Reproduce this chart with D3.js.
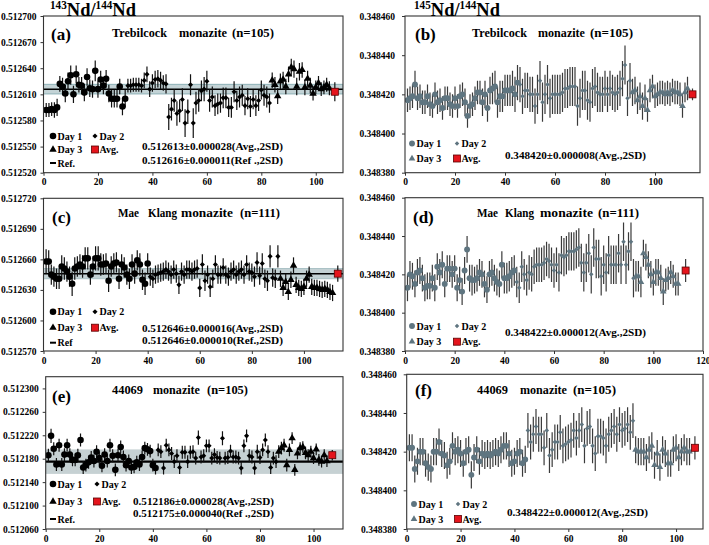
<!DOCTYPE html>
<html><head><meta charset="utf-8">
<script src="https://cdn.jsdelivr.net/npm/d3@7"></script>
<style>
body{margin:0;background:#fff}
text{font-family:"Liberation Serif","Times New Roman",serif;font-weight:bold;fill:#000}
</style></head>
<body><svg id="c" width="709" height="545"></svg>
<script>
// Values are stored in units of 1e-6 above the base ratio.
const BASE143 = 0.512, BASE145 = 0.348;

// (a) Trebilcock 143Nd/144Nd
const a_day1 = [592,592,593,592,595,622,619,611,625,632,610,633,621,620,612,630,617,616,637,616,627,620,628,611,605,605,605,619,596,605];
const a_day2 = [620,620,621,621,621,620,626,633,616,623,627,628,626,623,622,584,593,603,588,591,604,577,590,621,577,600,603,614,616,625,603,607,597,599,600,606,606,595,595,613,603,607,609,597,605,596,604,597,603,615,609,607,600];
const a_day3 = [626,621,608,625,627,619,633,641,639,619,636,638,618,628,620,611,618,623,616,618,621,617];
const a_err = [8,8,8,9,10,9,10,10,10,11,10,10,9,10,10,10,10,10,12,10,10,10,10,10,10,10,10,9,10,10,
  8,8,8,8,8,8,9,9,9,10,10,10,10,9,11,15,13,13,14,13,13,16,14,12,17,13,13,12,14,12,13,12,12,12,11,12,12,11,12,12,11,12,12,11,12,12,11,12,12,11,12,12,11,
  9,9,9,9,9,9,9,10,10,10,10,9,9,9,9,8,8,8,8,8,8,8];
const a_avg = 613, a_avgErr = 11, a_ref = 616, a_refSD = 5.5;

// (b) Trebilcock 145Nd/144Nd
const b_day1 = [417,418,419,425,418,419,416,416,419,415,414,420,416,417,413,418,418,415,414,418,414,419,420,416,409,414,415,418,421,421,416,420,413,422,423,424,416,419,419,422,422,422,423,420,426];
const b_day2 = [425,419,422,422,420,420,414,420,427,416,420,425,418,420,420,420,420,421,423,423,424,424,424,414,418,422,422,417,416,423,424,421,420,420,423,420,423,421,420,421,423,428,435,418,427];
const b_day3 = [421,422,417,419,414,418,412,422,424,419,420,421,421,420,421,420,422,421,421,420,414,421,423];
const b_err = [6,6,6,7,6,6,6,6,6,6,6,6,6,6,6,6,6,6,6,6,6,6,6,7,6,6,6,6,6,6,
  7,7,7,7,8,8,8,8,8,8,8,8,9,9,9,9,9,9,9,9,9,9,10,10,10,10,10,10,10,10,
  10,10,10,10,10,10,10,10,10,10,10,10,10,10,10,10,10,9,9,9,9,9,9,9,9,9,9,10,9,9,
  7,7,7,7,7,7,6,6,6,6,6,6,6,6,6,6,6,6,6,6,6,5,6];
const b_avg = 420, b_avgErr = 3;

// (c) Mae Klang 143Nd/144Nd
const c_day1 = [658,658,645,643,641,641,653,651,648,643,636,651,653,655,653,661,661,645,653,661,661,655,655,656,639,653,656,657,641,655,652,645,641,655,646,659,655,640,636,656];
const c_day2 = [643,641,645,646,647,648,650,648,645,650,646,635,648,645,650,650,648,650,651,632,655,639,645,633,641,655,645,645,652,645,643,648,650,645,648,650,645,655,648,647,643,657,644,656,641,639,663,642,641,663];
const c_day3 = [641,632,638,628,640,654,635,632,631,633,641,645,633,632,632,631,630,631,630,628,627];
const c_err = [12,11,10,10,10,10,11,11,10,10,12,11,10,10,11,11,11,10,10,12,12,11,10,10,11,10,10,10,10,10,10,10,10,10,10,10,11,10,11,10,
  9,9,9,9,9,9,9,9,9,9,9,9,9,9,9,9,9,9,9,9,10,10,9,10,9,9,9,9,9,9,9,9,9,9,9,9,9,9,9,9,10,10,9,10,9,10,11,9,9,11,
  8,8,8,8,8,8,8,8,8,8,8,8,8,8,8,8,8,8,8,8,8];
const c_avg = 646, c_avgErr = 8, c_ref = 646, c_refSD = 5;

// (d) Mae Klang 145Nd/144Nd
const d_day1 = [413,420,419,415,421,422,418,413,414,414,418,413,424,421,425,415,423,423,420,423,413,417,411,422,433,418,417,417,418,421,420,415,412,420,421,418,416,415,425,418,418,419,421,422];
const d_day2 = [416,413,424,420,417,421,420,424,425,425,425,426,428,427,425,422,425,421,430,429,430,432,432,432,433,434,426,421,426,431,420,434,428,428,419,425,421,430,425,425,425,431,425,437,425,432,437,418];
const d_day3 = [419,419,416,431,429,425,420,416,421,421,418,411,417,418,421,419,415,415];
const d_err = [7,7,7,7,7,7,7,7,7,7,7,7,7,7,7,7,7,7,7,7,7,7,7,7,7,7,8,7,7,7,7,7,7,7,7,7,7,7,7,8,8,8,8,8,
  8,8,8,8,8,9,9,9,9,9,9,9,9,9,9,9,9,10,10,10,10,10,10,10,10,10,10,10,10,10,10,10,10,10,10,10,10,10,10,10,10,10,10,10,10,10,10,10,
  8,8,8,7,7,7,7,7,7,7,7,7,6,6,6,6,6,6];
const d_avg = 422, d_avgErr = 6;

// (e) 44069 143Nd/144Nd
const e_day1 = [186,219,197,170,203,170,187,203,187,178,178,186,212,165,169,174,182,176,192,181,168,187,176,203,185,161,186,200,183,169,176,165,166,174,170,183,198,196,193,169,164];
const e_day2 = [195,192,164,203,195,189,175,185,165,191,191,175,191,192,181,216,183,185,202,202,181,187,182,181,215,181,182,193,183,183,181,164,202,219,185,183,164,192,182,195,212,192,165,181,175];
const e_day3 = [192,198,203,169,195,215,161,189,198,200,190,186,192,181,196,178,175,186,176];
const e_err = [11,12,11,11,11,11,11,11,11,11,11,11,11,11,11,11,11,11,11,11,11,11,11,11,11,11,11,11,11,11,11,11,11,11,11,11,11,11,11,11,11,
  11,11,11,11,11,11,11,11,11,11,11,11,11,11,11,12,11,11,11,11,11,11,11,11,12,11,11,11,11,11,11,11,11,11,11,11,11,12,11,11,11,11,11,11,11,11,11,11,11,11,
  10,10,10,10,10,11,10,10,10,10,10,10,10,10,10,10,10,10,10];
const e_avg = 186, e_avgErr = 9, e_ref = 175, e_refSD = 20;

// (f) 44069 145Nd/144Nd
const f_day1 = [422,422,411,415,420,420,414,412,411,420,420,425,419,418,413,415,423,420,421,419,414,420,421,408,417,421,415,419,418,419,418,419,420,419,421,423,423,419,414,415,419,420,414,416];
const f_day2 = [431,425,429,433,429,429,422,431,418,421,425,425,430,423,424,425,426,431,427,431,434,423,432,433,423,419,428,428,427,423,429,431,433,429,434,431,432,434,430,436];
const f_day3 = [421,420,420,420,417,421,423,413,419,412,421,419,414,414,421,422,417,420,422,420,420];
const f_err = [7,7,7,7,7,7,7,7,7,7,7,7,7,7,7,7,7,7,7,7,7,7,7,7,7,7,7,7,7,7,7,7,7,7,7,7,7,7,7,7,7,7,7,7,
  9,9,9,9,9,9,9,9,9,9,9,9,9,9,9,9,9,9,9,9,9,9,9,9,9,9,9,9,9,9,9,9,9,9,9,9,9,9,9,9,
  7,7,7,7,7,7,7,7,7,7,7,7,7,7,7,7,7,7,7,7,7];
const f_avg = 422, f_avgErr = 6;

// Tick values
const ticks143a = [0.512520,0.512550,0.512580,0.512610,0.512640,0.512670,0.512700];
const ticks143c = [0.512570,0.512600,0.512630,0.512660,0.512690,0.512720];
const ticks143e = [0.512060,0.512100,0.512140,0.512180,0.512220,0.512260,0.512300];
const ticks145  = [0.348380,0.348400,0.348420,0.348440,0.348460];
const xt100 = [0,20,40,60,80,100];
const xt120 = [0,20,40,60,80,100,120];

const svg = d3.select("#c");

function drawPanel(p) {
  const g = svg.append("g");
  const x = d3.scaleLinear().domain(p.xDomain).range([p.left, p.right]);
  const y = d3.scaleLinear().domain(p.yDomain).range([p.bottom, p.top]);
  const val = v => p.base + v * 1e-6;
  const mk = p.dark ? "#000" : "#5f7580";
  const barCol = p.dark ? "#111" : "#3a3a3a";
  const sc = p.dark ? 1 : 0.8;

  const cid = "clip" + p.label.replace(/\W/g, "");
  svg.append("clipPath").attr("id", cid).append("rect")
    .attr("x", p.left).attr("y", p.top).attr("width", p.right - p.left).attr("height", p.bottom - p.top);
  const inner = g.append("g").attr("clip-path", `url(#${cid})`);

  if (p.ref != null) {
    const yt = y(val(p.ref + p.refSD)), yb = y(val(p.ref - p.refSD));
    inner.append("rect").attr("x", p.left).attr("width", p.right - p.left)
      .attr("y", yt).attr("height", yb - yt)
      .attr("fill", p.bandFill).attr("stroke", p.bandStroke).attr("stroke-width", 1);
    inner.append("line").attr("x1", p.left).attr("x2", p.right)
      .attr("y1", y(val(p.ref))).attr("y2", y(val(p.ref)))
      .attr("stroke", "#000").attr("stroke-width", p.refW);
  }

  const pts = [];
  let i = 1;
  p.days.forEach((arr, d) => arr.forEach(v => { pts.push({ i, v, e: p.err[i - 1], d }); i++; }));

  inner.selectAll("line.eb").data(pts).enter().append("line").attr("class", "eb")
    .attr("x1", d => x(d.i)).attr("x2", d => x(d.i))
    .attr("y1", d => y(val(d.v - d.e))).attr("y2", d => y(val(d.v + d.e)))
    .attr("stroke", barCol).attr("stroke-width", 1.2);

  const symFor = d => {
    if (d === 0) return d3.symbol().type(d3.symbolCircle).size(34 * sc)();
    if (d === 1) return d3.symbol().type(d3.symbolSquare).size(13 * sc)();
    return d3.symbol().type(d3.symbolTriangle).size(24 * sc)();
  };
  inner.selectAll("path.pt").data(pts).enter().append("path").attr("class", "pt")
    .attr("d", d => symFor(d.d))
    .attr("transform", d => `translate(${x(d.i)},${y(val(d.v))})` + (d.d === 1 ? " rotate(45)" : ""))
    .attr("fill", mk);

  const ax = x(p.avgX), ay = y(val(p.avg));
  inner.append("line").attr("x1", ax).attr("x2", ax)
    .attr("y1", y(val(p.avg - p.avgErr))).attr("y2", y(val(p.avg + p.avgErr)))
    .attr("stroke", barCol).attr("stroke-width", 1.2);
  inner.append("rect").attr("x", ax - 3.5).attr("y", ay - 3.5).attr("width", 7).attr("height", 7)
    .attr("fill", "#e5141c").attr("stroke", "#5a0000").attr("stroke-width", 0.8);

  g.append("rect").attr("x", p.left).attr("y", p.top).attr("width", p.right - p.left).attr("height", p.bottom - p.top)
    .attr("fill", "none").attr("stroke", "#333").attr("stroke-width", 1.1);

  const xa = g.append("g").attr("transform", `translate(0,${p.bottom})`)
    .call(d3.axisBottom(x).tickValues(p.xTicks).tickSize(3).tickPadding(3).tickFormat(d3.format("d")));
  const ya = g.append("g").attr("transform", `translate(${p.left},0)`)
    .call(d3.axisLeft(y).tickValues(p.yTicks).tickSize(3).tickPadding(p.ytp).tickFormat(d3.format(".6f")));
  [xa, ya].forEach(a => {
    a.select(".domain").remove();
    a.selectAll("line").attr("stroke", "#333");
    a.selectAll("text").attr("font-size", "9.5px").attr("font-family", "Liberation Serif").attr("font-weight", "bold").attr("fill", "#000");
  });
  xa.selectAll("text").filter(d => d === 120).attr("text-anchor", "end").attr("dx", "7");

  g.append("text").attr("x", p.lab[0]).attr("y", p.lab[1]).attr("font-size", "17px").text(p.label);
  p.title.forEach(t => g.append("text").attr("x", t[0]).attr("y", p.titleY).attr("font-size", "12.5px")
    .attr("textLength", t[2]).attr("lengthAdjust", "spacingAndGlyphs").text(t[1]));

  const L = p.legend;
  const lg = g.append("g");
  const row = (mx, my, kind, label) => {
    if (kind === "avg") {
      lg.append("rect").attr("x", mx - 3.5).attr("y", my - 3.5).attr("width", 7).attr("height", 7)
        .attr("fill", "#e5141c").attr("stroke", "#5a0000").attr("stroke-width", 0.8);
    } else if (kind === "ref") {
      lg.append("line").attr("x1", mx - 3).attr("x2", mx + 3).attr("y1", my).attr("y2", my)
        .attr("stroke", "#000").attr("stroke-width", 2);
    } else {
      lg.append("path").attr("d", symFor(kind))
        .attr("transform", `translate(${mx},${my})` + (kind === 1 ? " rotate(45)" : "")).attr("fill", mk);
    }
    lg.append("text").attr("x", mx + 4.5).attr("y", my + 3.5).attr("font-size", "10px").text(label);
  };
  row(L.c1, L.r[0], 0, "Day 1");
  row(L.c2, L.r[0], 1, "Day 2");
  row(L.c1, L.r[1], 2, "Day 3");
  row(L.c2, L.r[1], "avg", "Avg.");
  if (L.r.length > 2) row(L.c1, L.r[2], "ref", p.refLabel);

  p.stats.forEach((s, k) => g.append("text").attr("x", p.statX).attr("y", p.statY[k]).attr("font-size", "11.2px")
    .attr("textLength", 141).attr("lengthAdjust", "spacingAndGlyphs").text(s));
}

function header(xp, sup1) {
  const t = svg.append("text").attr("x", xp).attr("y", 15.5).attr("textLength", 86).attr("lengthAdjust", "spacingAndGlyphs");
  t.append("tspan").attr("font-size", "11.5px").attr("dy", "-6.5").text(sup1);
  t.append("tspan").attr("font-size", "19px").attr("dy", "6.5").text("Nd/");
  t.append("tspan").attr("font-size", "11.5px").attr("dy", "-6.5").text("144");
  t.append("tspan").attr("font-size", "19px").attr("dy", "6.5").text("Nd");
}

const L = { left: 43.5, right: 343 }, R = { left: 405, right: 702 };

drawPanel({ label: "(a)", lab: [51, 40], left: L.left, right: L.right, top: 16, bottom: 172.7,
  xDomain: [0, 110], xTicks: xt100, yDomain: [0.512520, 0.512700], yTicks: ticks143a, ytp: 4,
  base: BASE143, days: [a_day1, a_day2, a_day3], err: a_err, avg: a_avg, avgErr: a_avgErr, avgX: 107,
  ref: a_ref, refSD: a_refSD, bandFill: "#c3d3d6", bandStroke: "#8cb0b6", refW: 1.5, refLabel: "Ref.",
  dark: true, titleY: 37, title: [[112, "Trebilcock", 55], [179, "monazite", 48], [232, "(n=105)", 42]],
  legend: { c1: 53, c2: 95, r: [136, 149.5, 163] },
  stats: ["0.512613±0.000028(Avg.,2SD)", "0.512616±0.000011(Ref .,2SD)"], statX: 142, statY: [150, 163.5] });

drawPanel({ label: "(b)", lab: [415, 40], left: R.left, right: 700, top: 16, bottom: 172.7,
  xDomain: [0, 118], xTicks: xt100, yDomain: [0.348380, 0.348460], yTicks: ticks145, ytp: 7,
  base: BASE145, days: [b_day1, b_day2, b_day3], err: b_err, avg: b_avg, avgErr: b_avgErr, avgX: 115,
  dark: false, titleY: 37, title: [[472, "Trebilcock", 55], [538, "monazite", 47], [590, "(n=105)", 43]],
  legend: { c1: 412, c2: 457, r: [143.5, 158.5] },
  stats: ["0.348420±0.000008(Avg.,2SD)"], statX: 505, statY: [159] });

drawPanel({ label: "(c)", lab: [52, 223], left: L.left, right: L.right, top: 198.3, bottom: 351,
  xDomain: [0, 115], xTicks: xt100, yDomain: [0.512570, 0.512720], yTicks: ticks143c, ytp: 4,
  base: BASE143, days: [c_day1, c_day2, c_day3], err: c_err, avg: c_avg, avgErr: c_avgErr, avgX: 113,
  ref: c_ref, refSD: c_refSD, bandFill: "#c3d1d4", bandStroke: "#a9c0c4", refW: 1.5, refLabel: "Ref",
  dark: true, titleY: 217, title: [[118, "Mae", 21], [148, "Klang", 29], [181, "monazite", 52], [240, "(n=111)", 40]],
  legend: { c1: 53, c2: 95, r: [311.7, 327.7, 342.7] },
  stats: ["0.512646±0.000016(Avg.,2SD)", "0.512646±0.000010(Ref.,2SD)"], statX: 142, statY: [332, 344] });

drawPanel({ label: "(d)", lab: [413, 223], left: R.left, right: 703, top: 197.7, bottom: 351,
  xDomain: [0, 120], xTicks: xt120, yDomain: [0.348380, 0.348460], yTicks: ticks145, ytp: 7,
  base: BASE145, days: [d_day1, d_day2, d_day3], err: d_err, avg: d_avg, avgErr: d_avgErr, avgX: 113,
  dark: false, titleY: 216.5, title: [[477, "Mae", 21], [505, "Klang", 29], [540, "monazite", 53], [598, "(n=111)", 41]],
  legend: { c1: 412, c2: 457, r: [326, 341.7] },
  stats: ["0.348422±0.000012(Avg.,2SD)"], statX: 505, statY: [336] });

drawPanel({ label: "(e)", lab: [52, 402], left: 45.7, right: L.right, top: 376.7, bottom: 529,
  xDomain: [0, 111], xTicks: xt100, yDomain: [0.512060, 0.512320], yTicks: ticks143e, ytp: 4,
  base: BASE143, days: [e_day1, e_day2, e_day3], err: e_err, avg: e_avg, avgErr: e_avgErr, avgX: 107,
  ref: e_ref, refSD: e_refSD, bandFill: "#c6d1d3", bandStroke: "#c6d1d3", refW: 2.4, refLabel: "Ref.",
  dark: true, titleY: 394, title: [[112, "44069", 31], [153, "monazite", 47], [207, "(n=105)", 41]],
  legend: { c1: 53, c2: 97, r: [484, 501.5, 519] },
  stats: ["0.512186±0.000028(Avg.,2SD)", "0.512175±0.000040(Ref .,2SD)"], statX: 133, statY: [505, 517] });

drawPanel({ label: "(f)", lab: [415, 396], left: 406.7, right: 703, top: 374.3, bottom: 529,
  xDomain: [0, 110], xTicks: xt100, yDomain: [0.348380, 0.348460], yTicks: ticks145, ytp: 7,
  base: BASE145, days: [f_day1, f_day2, f_day3], err: f_err, avg: f_avg, avgErr: f_avgErr, avgX: 107,
  dark: false, titleY: 394, title: [[477, "44069", 31], [520, "monazite", 47], [573, "(n=105)", 43]],
  legend: { c1: 414, c2: 458, r: [504, 519] },
  stats: ["0.348422±0.000012(Avg.,2SD)"], statX: 507, statY: [516] });

header(50, "143");
header(414, "145");
</script></body></html>
